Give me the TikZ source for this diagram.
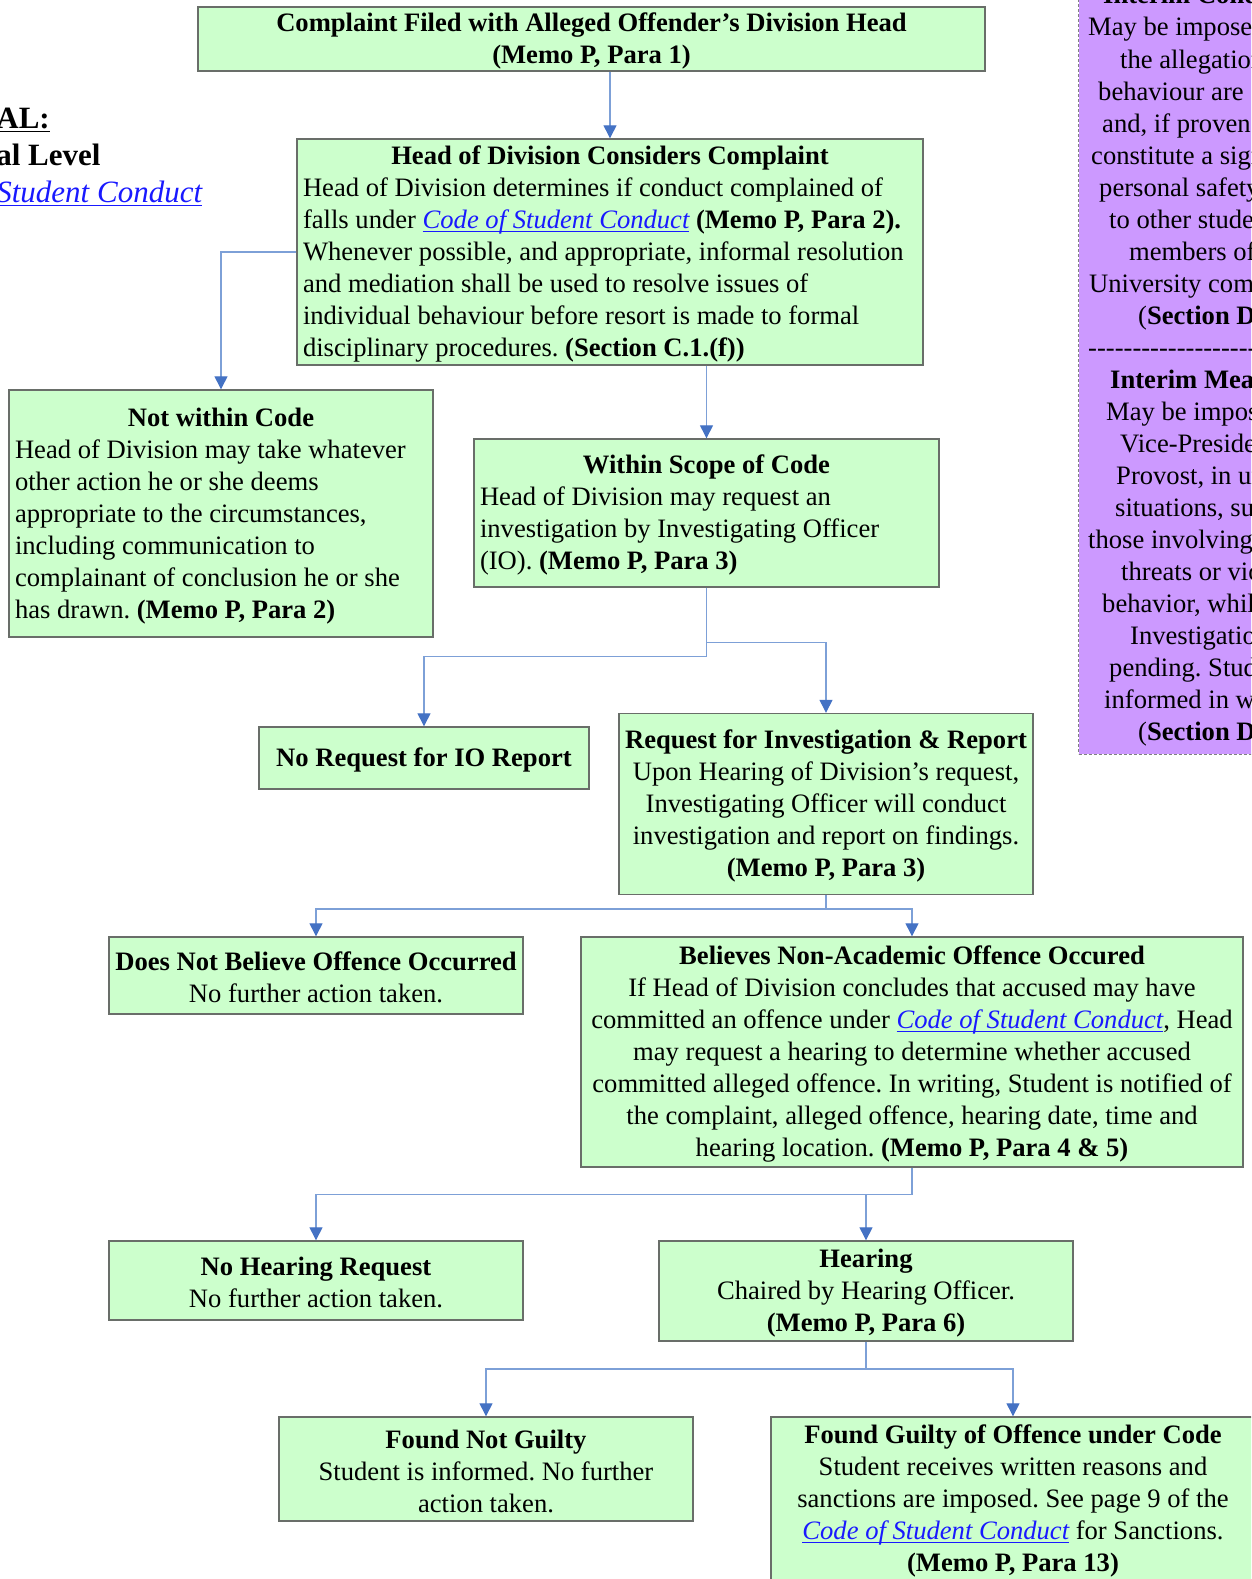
\documentclass[tikz,border=0pt]{standalone}
\usepackage{fontspec}
\setmainfont{Liberation Serif}
\usetikzlibrary{arrows.meta}
\definecolor{boxgreen}{RGB}{204,255,204}
\definecolor{boxpurple}{RGB}{204,153,255}
\definecolor{boxline}{RGB}{105,110,105}
\definecolor{connblue}{RGB}{125,160,215}
\definecolor{tipblue}{RGB}{68,114,196}
\definecolor{linkblue}{RGB}{25,25,255}
\newcommand{\myul}[1]{\begingroup\setbox0=\hbox{#1}\rlap{\rule[-3.5pt]{\wd0}{1.3pt}}\box0\endgroup}
\newcommand{\lnk}[1]{\textcolor{linkblue}{\myul{\itshape #1}}}
\newcommand{\ctitle}[1]{\makebox[\linewidth]{\textbf{#1}}}
\newcommand{\st}{\rule{0pt}{23pt}}
\tikzset{
  x=1pt, y=-1pt,
  fbox/.style={draw=boxline, line width=1.4pt, fill=boxgreen, inner xsep=6pt, inner ysep=0pt,
    font=\fontsize{26.6}{32}\selectfont\frenchspacing},
  wh/.style 2 args={minimum width=#1, minimum height=#2, align=flush center},
  lwh/.style 2 args={minimum width=#1, minimum height=#2, text width={#1-12pt}, align=flush left},
  conn/.style={draw=connblue, line width=1.3pt, -{Triangle[width=13pt,length=13pt,color=tipblue]}},
  pline/.style={anchor=base west, inner sep=0pt, font=\fontsize{26.6}{32}\selectfont\frenchspacing},
  ttl/.style={anchor=base east, inner sep=0pt, font=\fontsize{31}{37}\selectfont},
}
\begin{document}
\begin{tikzpicture}
\useasboundingbox (0,0) rectangle (1251,1579);
\clip (0,0) rectangle (1251,1579);

% left title fragment
\node[ttl] (t1) at (50,128.3) {\myul{\textbf{FORMAL:}}};
\node[ttl] (t2) at (100.7,165) {\textbf{Divisional Level}};
\node[ttl] (t3) at (202.3,202.7) {\lnk{Code of Student Conduct}};

% purple side box
\node[draw=gray, dashed, dash pattern=on 3pt off 2pt, line width=1.2pt, fill=boxpurple,
  minimum width=240pt, minimum height=800pt, anchor=south west, inner sep=0pt] (side) at (1078,755) {};
\node[pline] (s0) at (1103,4) {\textbf{Interim Conditions}};
\node[pline] (s1) at (1088,36) {May be imposed if};
\node[pline] (s2) at (1120,68) {the allegations of};
\node[pline] (s3) at (1098,100) {behaviour are};
\node[pline] (s4) at (1102,132) {and, if proven};
\node[pline] (s5) at (1091,164) {constitute a significant};
\node[pline] (s6) at (1099,196) {personal safety threat};
\node[pline] (s7) at (1109,228) {to other students or};
\node[pline] (s8) at (1129,260) {members of the};
\node[pline] (s9) at (1089,292) {University community.};
\node[pline] (s10) at (1138,324) {(\textbf{Section D.2})};
\node[pline] (s11) at (1088,356) {-{}-{}-{}-{}-{}-{}-{}-{}-{}-{}-{}-{}-{}-{}-{}-{}-{}-{}-{}-{}-{}-{}-{}-{}-{}-};
\node[pline] (s12) at (1110,388) {\textbf{Interim Measures}};
\node[pline] (s13) at (1106,420) {May be imposed by the};
\node[pline] (s14) at (1120,452) {Vice-President and};
\node[pline] (s15) at (1116,484) {Provost, in urgent};
\node[pline] (s16) at (1115,516) {situations, such as};
\node[pline] (s17) at (1088,548) {those involving serious};
\node[pline] (s18) at (1121,580) {threats or violent};
\node[pline] (s19) at (1102,612) {behavior, while the};
\node[pline] (s20) at (1130,644) {Investigation is};
\node[pline] (s21) at (1109,676) {pending. Student is};
\node[pline] (s22) at (1104,708) {informed in writing.};
\node[pline] (s23) at (1138,740) {(\textbf{Section D.3})};

% flow boxes
\node[fbox, wh={787pt}{64pt}] (top) at (591.5,39)
  {\st\textbf{Complaint Filed with Alleged Offender’s Division Head}\\\textbf{(Memo P, Para 1)}};

\node[fbox, lwh={626pt}{226pt}] (hod) at (610,252)
  {\st\ctitle{Head of Division Considers Complaint}\\
   \mbox{Head of Division determines if conduct complained of}\\
   \mbox{falls under \lnk{Code of Student Conduct} \textbf{(Memo P, Para 2).}}\\
   \mbox{Whenever possible, and appropriate, informal resolution}\\
   \mbox{and mediation shall be used to resolve issues of}\\
   \mbox{individual behaviour before resort is made to formal}\\
   \mbox{disciplinary procedures. \textbf{(Section C.1.(f))}}};

\node[fbox, lwh={424pt}{247pt}] (nw) at (221,513.5)
  {\st\ctitle{Not within Code}\\
   \mbox{Head of Division may take whatever}\\
   \mbox{other action he or she deems}\\
   \mbox{appropriate to the circumstances,}\\
   \mbox{including communication to}\\
   \mbox{complainant of conclusion he or she}\\
   \mbox{has drawn. \textbf{(Memo P, Para 2)}}};

\node[fbox, lwh={465pt}{148pt}] (ws) at (706.5,513)
  {\st\ctitle{Within Scope of Code}\\
   \mbox{Head of Division may request an}\\
   \mbox{investigation by Investigating Officer}\\
   \mbox{(IO). \textbf{(Memo P, Para 3)}}};

\node[fbox, wh={330pt}{62pt}] (nr) at (424,758)
  {\st\textbf{No Request for IO Report}};

\node[fbox, wh={414pt}{181pt}] (ri) at (826,804)
  {\st\textbf{Request for Investigation \& Report}\\
   Upon Hearing of Division’s request,\\
   Investigating Officer will conduct\\
   investigation and report on findings.\\
   \textbf{(Memo P, Para 3)}};

\node[fbox, wh={414pt}{77pt}] (dnb) at (316,975.5)
  {\st\textbf{Does Not Believe Offence Occurred}\\No further action taken.};

\node[fbox, wh={662pt}{230pt}] (bno) at (912,1052)
  {\st\textbf{Believes Non-Academic Offence Occured}\\
   If Head of Division concludes that accused may have\\
   committed an offence under \lnk{Code of Student Conduct}, Head\\
   may request a hearing to determine whether accused\\
   committed alleged offence. In writing, Student is notified of\\
   the complaint, alleged offence, hearing date, time and\\
   hearing location. \textbf{(Memo P, Para 4 \& 5)}};

\node[fbox, wh={414pt}{79pt}] (nh) at (316,1280.5)
  {\st\textbf{No Hearing Request}\\No further action taken.};

\node[fbox, wh={414pt}{100pt}] (hr) at (866,1291)
  {\st\textbf{Hearing}\\Chaired by Hearing Officer.\\\textbf{(Memo P, Para 6)}};

\node[fbox, wh={414pt}{104pt}] (fng) at (486,1469)
  {\st\textbf{Found Not Guilty}\\Student is informed. No further\\action taken.};

\node[fbox, wh={484pt}{164pt}] (fg) at (1013,1499)
  {\st\textbf{Found Guilty of Offence under Code}\\
   Student receives written reasons and\\
   sanctions are imposed. See page 9 of the\\
   \lnk{Code of Student Conduct} for Sanctions.\\
   \textbf{(Memo P, Para 13)}};

% junction points
\coordinate (j1) at (706.5,656.7);
\coordinate (j2) at (706.5,642.7);
\coordinate (j3) at (826,909);
\coordinate (j4) at (912,1194.7);
\coordinate (j5) at (866,1369);

% connectors
\draw[conn] (top.south -| hod.north) -- (hod.north);
\draw[conn] (hod.west) -| (nw.north);
\draw[conn] (hod.south -| ws.north) -- (ws.north);
\draw[conn] (ws.south) -- (j1) -| (nr.north);
\draw[conn] (j2) -| (ri.north);
\draw[conn] (ri.south) -- (j3) -| (dnb.north);
\draw[conn] (j3) -| (bno.north);
\draw[conn] (bno.south) -- (j4) -| (nh.north);
\draw[conn] (j4) -| (hr.north);
\draw[conn] (hr.south) -- (j5) -| (fng.north);
\draw[conn] (j5) -| (fg.north);
\end{tikzpicture}
\end{document}
